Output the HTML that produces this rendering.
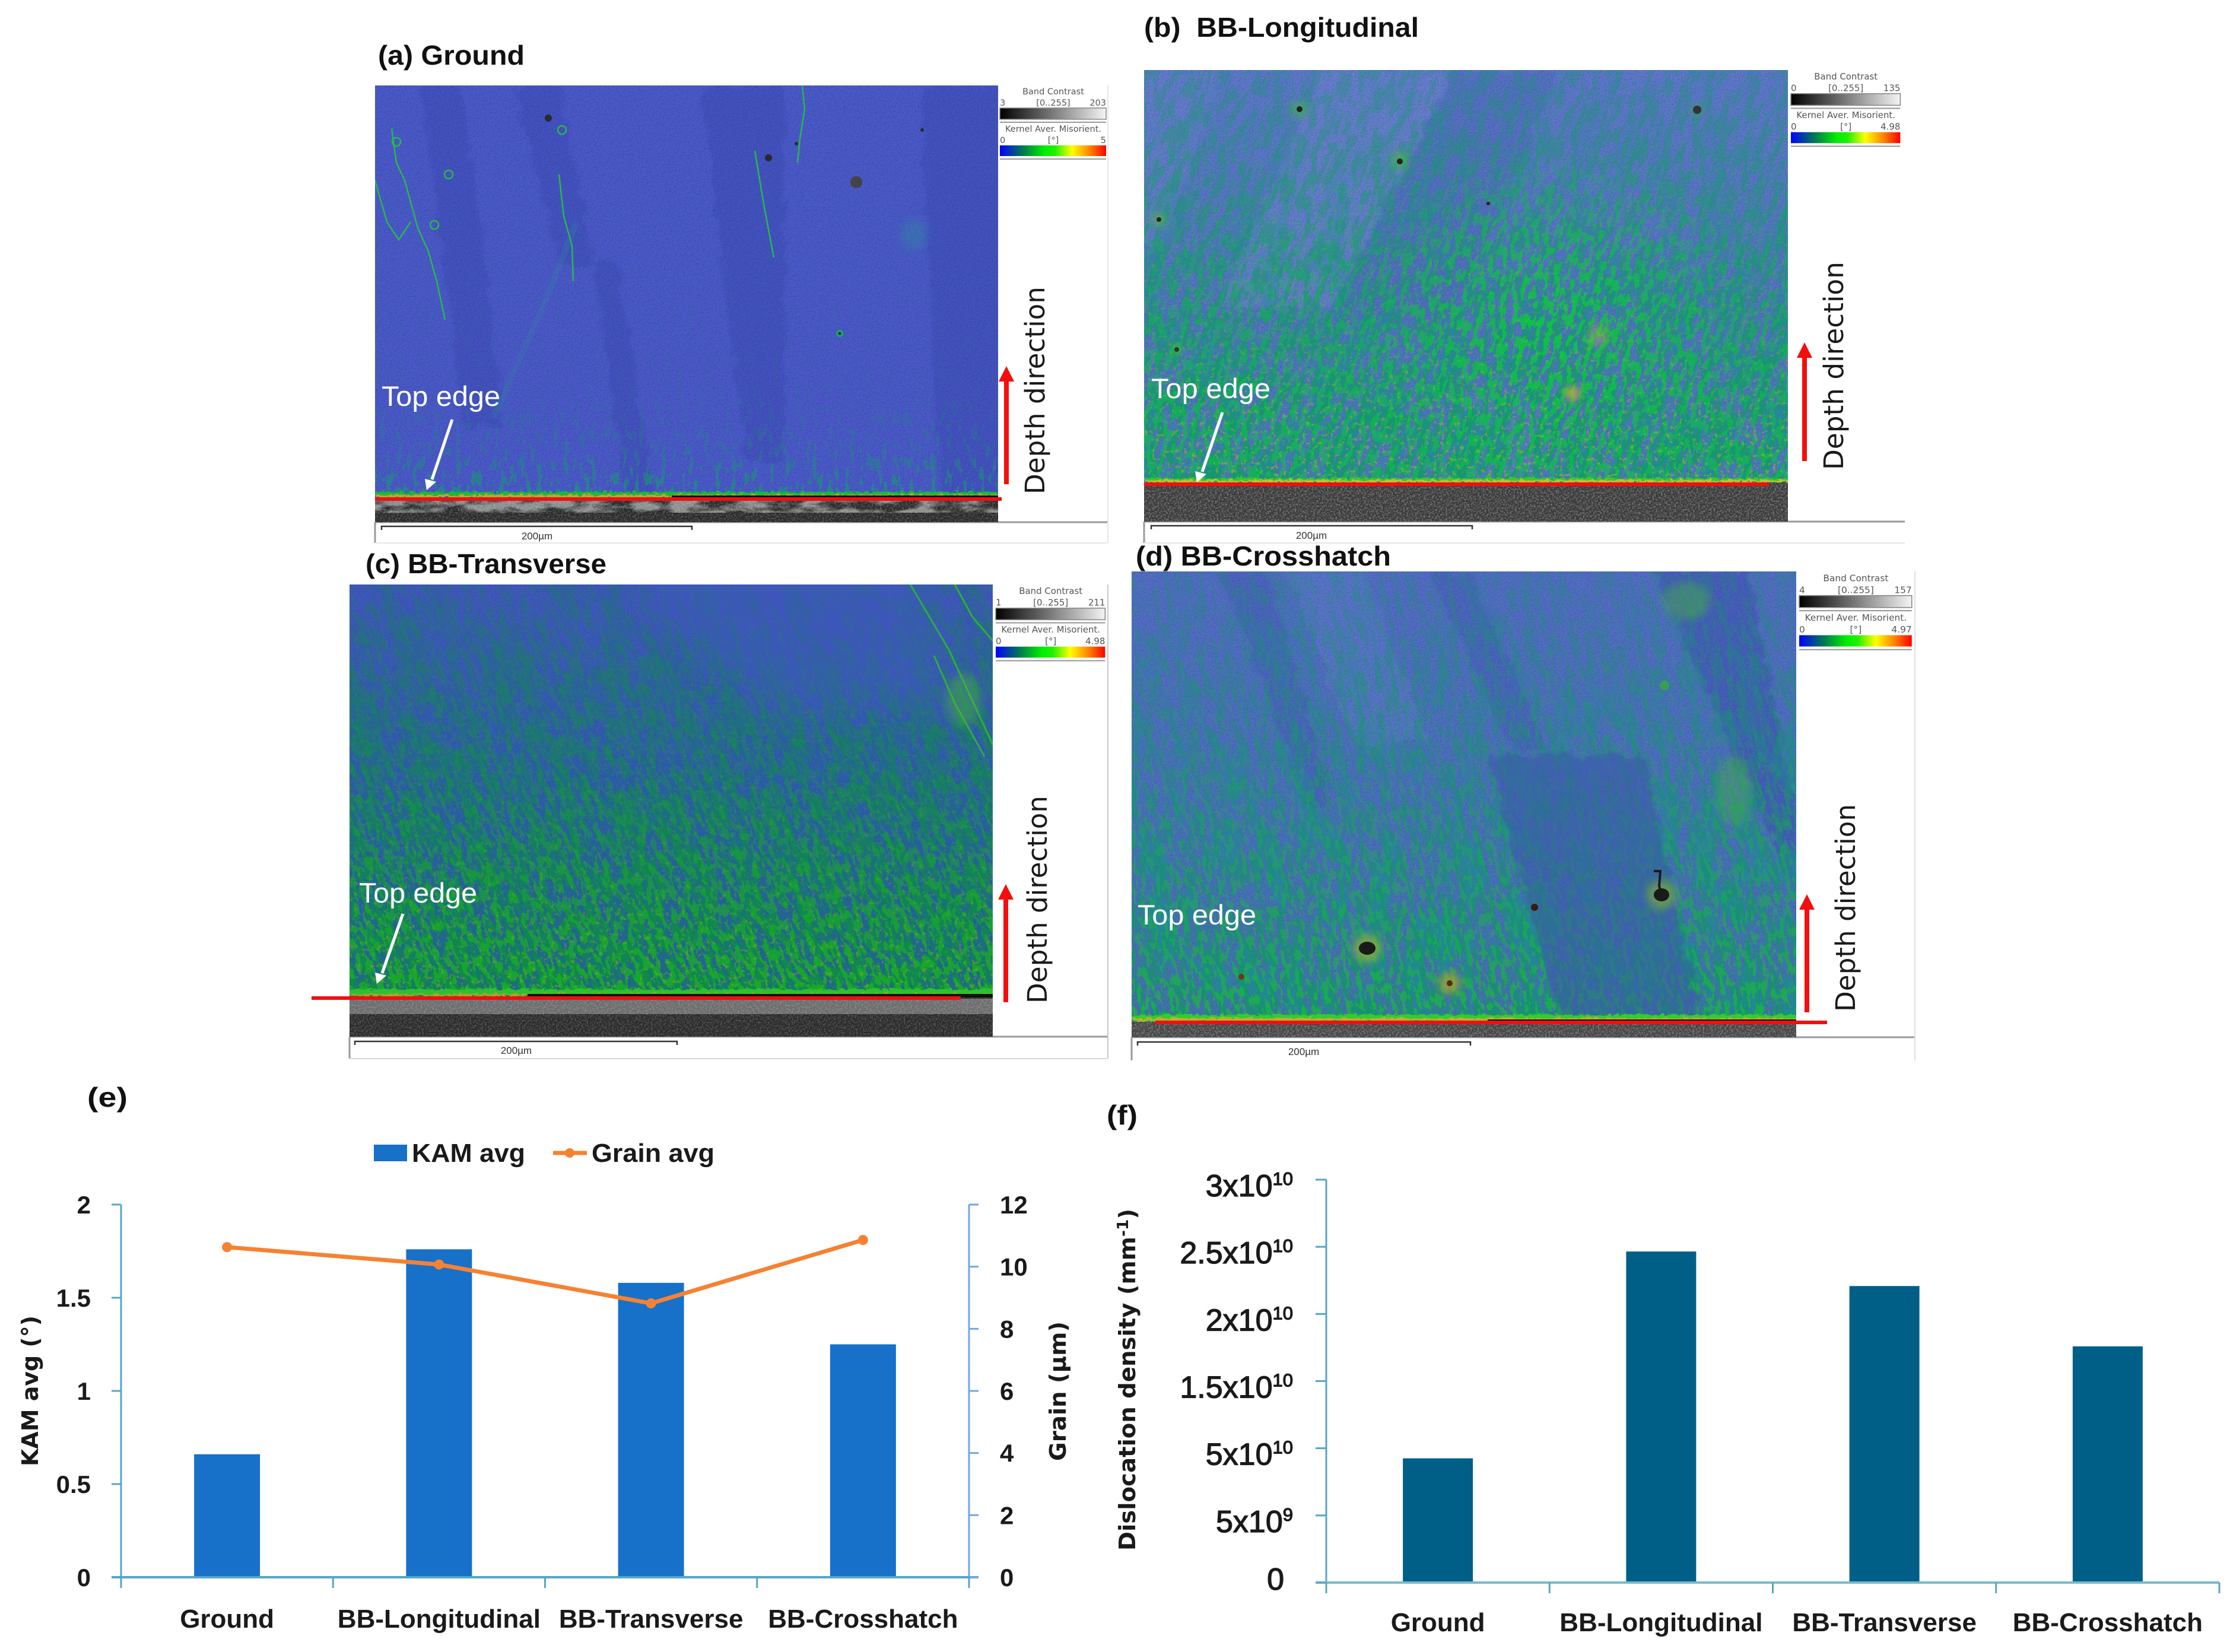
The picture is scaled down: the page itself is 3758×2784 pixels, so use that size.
<!DOCTYPE html>
<html lang="en">
<head>
<meta charset="utf-8">
<title>KAM maps and dislocation density charts</title>
<style>
html,body{margin:0;padding:0;background:#fff;}
svg{display:block;}
text{font-family:"Liberation Sans",sans-serif;}
.ttl{font-weight:bold;font-size:46px;fill:#111;}
.edge{font-size:47px;fill:#fff;}
.depth{font-family:"DejaVu Sans",sans-serif;font-size:45px;fill:#1a1a1a;}
.leg{font-family:"DejaVu Sans",sans-serif;font-size:14.5px;fill:#555;}
.axt{font-family:"DejaVu Sans",sans-serif;font-weight:bold;font-size:38px;fill:#1a1a1a;}
.tick{font-weight:bold;font-size:42px;fill:#1a1a1a;}
.tickf{font-size:52px;fill:#1a1a1a;stroke:#1a1a1a;stroke-width:1.3px;}
.cat{font-weight:bold;font-size:44px;fill:#1a1a1a;}
.scale{font-size:17px;fill:#333;}
</style>
</head>
<body>
<svg id="figure" xmlns="http://www.w3.org/2000/svg" width="3758" height="2784" viewBox="0 0 3758 2784">
<defs>
  <linearGradient id="lg-gray"><stop offset="0" stop-color="#000"/><stop offset="1" stop-color="#f4f4f4"/></linearGradient>
  <linearGradient id="lg-kam"><stop offset="0" stop-color="#0000ff"/><stop offset=".22" stop-color="#007a50"/><stop offset=".42" stop-color="#00ee00"/><stop offset=".52" stop-color="#20f000"/><stop offset=".68" stop-color="#ffff00"/><stop offset=".85" stop-color="#ff8000"/><stop offset="1" stop-color="#ff0000"/></linearGradient>

  <filter id="rough" x="-5%" y="-5%" width="110%" height="110%" color-interpolation-filters="sRGB">
    <feGaussianBlur stdDeviation="3" result="b"/>
    <feTurbulence type="fractalNoise" baseFrequency="0.035" numOctaves="3" seed="5" result="n"/>
    <feDisplacementMap in="b" in2="n" scale="26" xChannelSelector="R" yChannelSelector="G"/>
  </filter>
  <filter id="grain" x="0" y="0" width="100%" height="100%" color-interpolation-filters="sRGB">
    <feTurbulence type="fractalNoise" baseFrequency="0.35" numOctaves="2" seed="9"/>
    <feColorMatrix values="0 0 0 0 1  0 0 0 0 1  0 0 0 0 1  3 0 0 0 -1.25"/>
  </filter>
  <filter id="blotch" x="0" y="0" width="100%" height="100%" color-interpolation-filters="sRGB">
    <feTurbulence type="fractalNoise" baseFrequency="0.018 0.06" numOctaves="4" seed="14"/>
    <feColorMatrix values="0 0 0 0 .55  0 0 0 0 .55  0 0 0 0 .55  4 0 0 0 -1.5"/>
  </filter>
  <filter id="fine-blue" x="0" y="0" width="100%" height="100%" color-interpolation-filters="sRGB">
    <feTurbulence type="fractalNoise" baseFrequency="0.4" numOctaves="2" seed="2"/>
    <feColorMatrix values="0 0 0 0 .15  0 0 0 0 .2  0 0 0 0 .55  2.2 0 0 0 -1"/>
  </filter>
  <filter id="m-vert" x="0" y="0" width="100%" height="100%" color-interpolation-filters="sRGB">
    <feTurbulence type="fractalNoise" baseFrequency="0.11 0.04" numOctaves="3" seed="4"/>
    <feColorMatrix values="0 0 0 0 .08  0 0 0 0 .62  0 0 0 0 .42  10 0 0 0 -5.4"/>
  </filter>
  <filter id="teal-b" x="0" y="0" width="100%" height="100%" color-interpolation-filters="sRGB">
    <feTurbulence type="fractalNoise" baseFrequency="0.025 0.009" numOctaves="3" seed="7"/>
    <feColorMatrix values="0 0 0 0 .1  0 0 0 0 .56  0 0 0 0 .55  8 0 0 0 -4"/>
  </filter>
  <filter id="teal-c" x="0" y="0" width="100%" height="100%" color-interpolation-filters="sRGB">
    <feTurbulence type="fractalNoise" baseFrequency="0.025 0.009" numOctaves="3" seed="17"/>
    <feColorMatrix values="0 0 0 0 .08  0 0 0 0 .48  0 0 0 0 .42  8 0 0 0 -3.8"/>
  </filter>
  <filter id="m-b1" x="0" y="0" width="100%" height="100%" color-interpolation-filters="sRGB">
    <feTurbulence type="fractalNoise" baseFrequency="0.08 0.025" numOctaves="4" seed="11"/>
    <feColorMatrix values="0 0 0 0 .08  0 0 0 0 .6  0 0 0 0 .42  11 0 0 0 -5.2"/>
  </filter>
  <filter id="m-b2" x="0" y="0" width="100%" height="100%" color-interpolation-filters="sRGB">
    <feTurbulence type="fractalNoise" baseFrequency="0.11 0.05" numOctaves="4" seed="23"/>
    <feColorMatrix values="0 0 0 0 .05  0 0 0 0 .78  0 0 0 0 .25  13 0 0 0 -6.4"/>
  </filter>
  <filter id="m-c1" x="0" y="0" width="100%" height="100%" color-interpolation-filters="sRGB">
    <feTurbulence type="fractalNoise" baseFrequency="0.08 0.025" numOctaves="4" seed="31"/>
    <feColorMatrix values="0 0 0 0 .06  0 0 0 0 .55  0 0 0 0 .28  11 0 0 0 -5.3"/>
  </filter>
  <filter id="m-c2" x="0" y="0" width="100%" height="100%" color-interpolation-filters="sRGB">
    <feTurbulence type="fractalNoise" baseFrequency="0.11 0.05" numOctaves="4" seed="37"/>
    <feColorMatrix values="0 0 0 0 .1  0 0 0 0 .7  0 0 0 0 .12  13 0 0 0 -6.4"/>
  </filter>
  <filter id="m-d1" x="0" y="0" width="100%" height="100%" color-interpolation-filters="sRGB">
    <feTurbulence type="fractalNoise" baseFrequency="0.09 0.022" numOctaves="4" seed="41"/>
    <feColorMatrix values="0 0 0 0 .08  0 0 0 0 .58  0 0 0 0 .42  11 0 0 0 -5.3"/>
  </filter>
  <filter id="m-d2" x="0" y="0" width="100%" height="100%" color-interpolation-filters="sRGB">
    <feTurbulence type="fractalNoise" baseFrequency="0.12 0.05" numOctaves="4" seed="47"/>
    <feColorMatrix values="0 0 0 0 .1  0 0 0 0 .74  0 0 0 0 .22  13 0 0 0 -6.6"/>
  </filter>
  <filter id="orange" x="0" y="0" width="100%" height="100%" color-interpolation-filters="sRGB">
    <feTurbulence type="fractalNoise" baseFrequency="0.15" numOctaves="2" seed="53"/>
    <feColorMatrix values="0 0 0 0 .85  0 0 0 0 .66  0 0 0 0 .12  24 0 0 0 -15.6"/>
  </filter>
  <filter id="strip" x="0" y="-30%" width="100%" height="160%" color-interpolation-filters="sRGB">
    <feTurbulence type="fractalNoise" baseFrequency="0.12 0.2" numOctaves="3" seed="8" result="n"/>
    <feDisplacementMap in="SourceGraphic" in2="n" scale="10" xChannelSelector="G" yChannelSelector="R"/>
  </filter>
  <filter id="soft" x="-30%" y="-30%" width="160%" height="160%"><feGaussianBlur stdDeviation="7"/></filter>
  <filter id="softer" x="-30%" y="-30%" width="160%" height="160%"><feGaussianBlur stdDeviation="30"/></filter>

  <clipPath id="clip-a"><rect width="1050" height="736"/></clipPath>
  <clipPath id="clip-b"><rect width="1085" height="761"/></clipPath>
  <clipPath id="clip-c"><rect width="1084" height="762"/></clipPath>
  <clipPath id="clip-d"><rect width="1120" height="785"/></clipPath>

  <linearGradient id="ga" x1="0" y1="0" x2="0" y2="1"><stop offset="0" stop-color="#000"/><stop offset=".7" stop-color="#0e0e0e"/><stop offset=".84" stop-color="#444"/><stop offset=".92" stop-color="#999"/><stop offset="1" stop-color="#eee"/></linearGradient>
  <mask id="mask-a" maskUnits="userSpaceOnUse" x="0" y="0" width="1050" height="736"><rect width="1050" height="736" fill="url(#ga)"/></mask>

  <linearGradient id="gb" x1="0" y1="0" x2="0" y2="1"><stop offset="0" stop-color="#4a4a4a"/><stop offset=".35" stop-color="#7a7a7a"/><stop offset=".7" stop-color="#ccc"/><stop offset="1" stop-color="#eee"/></linearGradient>
  <linearGradient id="gt" x1="0" y1="0" x2="0" y2="1"><stop offset="0" stop-color="#111"/><stop offset=".35" stop-color="#4a4a4a"/><stop offset=".7" stop-color="#aaa"/><stop offset="1" stop-color="#ccc"/></linearGradient>
  <radialGradient id="rb"><stop offset="0" stop-color="#fff" stop-opacity=".85"/><stop offset="1" stop-color="#fff" stop-opacity="0"/></radialGradient>
  <linearGradient id="gb2" x1="0" y1="0" x2="0" y2="1"><stop offset="0" stop-color="#000"/><stop offset=".3" stop-color="#222"/><stop offset=".7" stop-color="#777"/><stop offset="1" stop-color="#999"/></linearGradient>
  <mask id="mask-b" maskUnits="userSpaceOnUse" x="0" y="0" width="1085" height="761"><rect width="1085" height="761" fill="url(#gb)"/></mask>
  <mask id="mask-bt" maskUnits="userSpaceOnUse" x="0" y="0" width="1085" height="761"><rect width="1085" height="761" fill="url(#gt)"/></mask>
  <mask id="mask-b2" maskUnits="userSpaceOnUse" x="0" y="0" width="1085" height="761"><rect width="1085" height="761" fill="url(#gb2)"/><ellipse cx="690" cy="430" rx="340" ry="300" fill="url(#rb)"/></mask>

  <linearGradient id="gc" x1="0" y1="0" x2="0" y2="1"><stop offset="0" stop-color="#333"/><stop offset=".4" stop-color="#777"/><stop offset=".75" stop-color="#ccc"/><stop offset="1" stop-color="#fff"/></linearGradient>
  <linearGradient id="gc2" x1="0" y1="0" x2="0" y2="1"><stop offset="0" stop-color="#0a0a0a"/><stop offset=".4" stop-color="#2a2a2a"/><stop offset=".75" stop-color="#999"/><stop offset="1" stop-color="#f0f0f0"/></linearGradient>
  <mask id="mask-c" maskUnits="userSpaceOnUse" x="0" y="0" width="1084" height="762"><rect width="1084" height="762" fill="url(#gc)"/></mask>
  <mask id="mask-c2" maskUnits="userSpaceOnUse" x="0" y="0" width="1084" height="762"><rect width="1084" height="762" fill="url(#gc2)"/></mask>

  <linearGradient id="gd" x1="0" y1="0" x2="0" y2="1"><stop offset="0" stop-color="#3a3a3a"/><stop offset=".4" stop-color="#666"/><stop offset=".8" stop-color="#aaa"/><stop offset="1" stop-color="#ddd"/></linearGradient>
  <linearGradient id="gd2" x1="0" y1="0" x2="0" y2="1"><stop offset="0" stop-color="#0a0a0a"/><stop offset=".4" stop-color="#2a2a2a"/><stop offset=".8" stop-color="#777"/><stop offset="1" stop-color="#bbb"/></linearGradient>
  <mask id="mask-d" maskUnits="userSpaceOnUse" x="0" y="0" width="1120" height="785"><rect width="1120" height="785" fill="url(#gd)"/></mask>
  <mask id="mask-dt" maskUnits="userSpaceOnUse" x="0" y="0" width="1120" height="785"><rect width="1120" height="785" fill="url(#gt)"/></mask>
  <mask id="mask-d2" maskUnits="userSpaceOnUse" x="0" y="0" width="1120" height="785"><rect width="1120" height="785" fill="url(#gd2)"/></mask>

  <linearGradient id="g-or" x1="0" y1="0" x2="0" y2="1"><stop offset="0" stop-color="#000"/><stop offset=".55" stop-color="#2a2a2a"/><stop offset="1" stop-color="#999"/></linearGradient>
  <mask id="mask-or" maskUnits="userSpaceOnUse" x="0" y="0" width="1120" height="785"><rect width="1120" height="785" fill="url(#g-or)"/></mask>

  <linearGradient id="bg-b" x1="0" y1="0" x2="0" y2="1"><stop offset="0" stop-color="#5f78c8"/><stop offset=".55" stop-color="#4f74bc"/><stop offset="1" stop-color="#4a7cb4"/></linearGradient>
  <linearGradient id="bg-c" x1="0" y1="0" x2="0" y2="1"><stop offset="0" stop-color="#4057bc"/><stop offset=".45" stop-color="#2b5ea8"/><stop offset=".85" stop-color="#1f6b8a"/><stop offset="1" stop-color="#1d7a6a"/></linearGradient>
  <linearGradient id="bg-d" x1="0" y1="0" x2="0" y2="1"><stop offset="0" stop-color="#556cc4"/><stop offset=".55" stop-color="#4a6fba"/><stop offset="1" stop-color="#3f76a6"/></linearGradient>
</defs>

<rect width="3758" height="2784" fill="#fff"/>

<!-- PANEL A -->
<text class="ttl" x="637" y="109" textLength="247" lengthAdjust="spacingAndGlyphs">(a) Ground</text>
<g fill="none">
  <path d="M632 880H1867M632 880V915" stroke="#9a9a9a" stroke-width="3"/>
  <path d="M1867 144V915M632 915H1867" stroke="#e6e6e6" stroke-width="2"/>
</g>
<g transform="translate(632,144)" clip-path="url(#clip-a)">
  <rect width="1050" height="736" fill="#4a59c6"/>
  <g fill="#3948b0" filter="url(#rough)" opacity=".38">
    <polygon points="76,0 150,0 216,576 150,576"/>
    <polygon points="549,0 690,0 690,636 625,636"/>
    <polygon points="920,0 1060,0 1060,698 950,698"/>
    <polygon points="234,0 310,0 370,300 310,300"/>
    <polygon points="370,300 410,300 470,690 420,690"/>
  </g>
  <rect width="1050" height="736" filter="url(#fine-blue)" opacity=".45"/>
  <g mask="url(#mask-a)"><rect width="1050" height="736" filter="url(#m-vert)"/></g>
  <g fill="none" stroke="#28b84a" stroke-width="2.5">
    <path d="M28,72 L36,130 L50,160 L72,240 L90,280 L104,330 L118,395"/>
    <path d="M310,150 L318,220 L332,270 L334,330"/>
    <path d="M720,0 L724,40 L716,90 L712,130"/>
    <path d="M640,110 L655,200 L672,290"/>
    <path d="M0,160 L20,230 L40,260 L60,230"/>
    <circle cx="36" cy="95" r="7"/><circle cx="124" cy="150" r="7"/><circle cx="315" cy="75" r="7"/><circle cx="100" cy="235" r="7"/>
  </g>
  <path d="M340,230 L280,380 L200,560" stroke="#2a8a9a" stroke-width="10" fill="none" opacity=".25"/>
  <g filter="url(#strip)">
    <rect y="685" width="1050" height="10" fill="#1cb83a"/>
    <rect y="690" width="1050" height="5" fill="#b8a838"/>
  </g>
  <rect x="500" y="691" width="550" height="4" fill="#111"/>
  <rect y="698" width="1050" height="38" fill="#2a2a2a"/>
  <rect y="698" width="1050" height="22" filter="url(#blotch)"/>
  <rect y="698" width="1050" height="38" filter="url(#grain)" opacity=".22"/>
  <g fill="#2a2a2a">
    <circle cx="292" cy="55" r="6"/><circle cx="663" cy="122" r="6"/><circle cx="811" cy="163" r="10" fill="#444"/>
    <circle cx="922" cy="75" r="3"/><circle cx="710" cy="98" r="3"/>
  </g>
  <circle cx="783" cy="418" r="6" fill="#1aa85a"/><circle cx="783" cy="418" r="2.5" fill="#123"/>
  <ellipse cx="908" cy="252" rx="24" ry="26" fill="#2d8aa0" opacity=".4" filter="url(#soft)"/>
</g>
<rect x="632" y="838" width="1056" height="6" fill="#f01010"/>
<text class="edge" x="643" y="684" textLength="200" lengthAdjust="spacingAndGlyphs">Top edge</text>
<g><path d="M762,707 L728,808" stroke="#fff" stroke-width="5"/><polygon points="719,826 716,807 735,812" fill="#fff"/></g>
<g><rect x="1692" y="640" width="8" height="176" fill="#f40f0f"/><polygon points="1696,617 1683,643 1709,643" fill="#f40f0f"/></g>
<text class="depth" transform="translate(1760,833) rotate(-90)" textLength="350" lengthAdjust="spacingAndGlyphs">Depth direction</text>
<g>
  <path d="M643,893 V887 H1166 V893" fill="none" stroke="#333" stroke-width="2.5"/>
  <text class="scale" x="905" y="909" text-anchor="middle">200µm</text>
</g>
<g transform="translate(1685,154)">
  <text class="leg" x="90" y="5" text-anchor="middle">Band Contrast</text>
  <text class="leg" x="0" y="24">3</text><text class="leg" x="90" y="24" text-anchor="middle">[0..255]</text><text class="leg" x="179" y="24" text-anchor="end">203</text>
  <rect x="0" y="28" width="179" height="19" fill="url(#lg-gray)" stroke="#888" stroke-width="1.5"/>
  <rect x="0" y="51" width="179" height="2" fill="#999"/>
  <text class="leg" x="90" y="68" text-anchor="middle">Kernel Aver. Misorient.</text>
  <text class="leg" x="0" y="87">0</text><text class="leg" x="90" y="87" text-anchor="middle">[°]</text><text class="leg" x="179" y="87" text-anchor="end">5</text>
  <rect x="0" y="91" width="179" height="18" fill="url(#lg-kam)"/>
  <rect x="0" y="113" width="179" height="2" fill="#999"/>
</g>

<!-- PANEL B -->
<text class="ttl" x="1928" y="62" textLength="463" lengthAdjust="spacingAndGlyphs">(b)&#160;&#160;BB-Longitudinal</text>
<g fill="none">
  <path d="M1928 879H3210M1928 879V915" stroke="#9a9a9a" stroke-width="3"/>
  <path d="M1928 915H3210" stroke="#e6e6e6" stroke-width="2"/>
</g>
<g transform="translate(1928,118)" clip-path="url(#clip-b)">
  <rect width="1085" height="761" fill="url(#bg-b)"/>
  <g filter="url(#rough)">
    <polygon points="300,0 523,0 317,400 128,400" fill="#6a80cc" opacity=".7"/>
    <polygon points="0,0 130,0 30,300 0,300" fill="#6a80cc" opacity=".5"/>
    <polygon points="523,0 700,0 520,420 317,420" fill="#4f66bc" opacity=".45"/>
    <polygon points="520,560 720,520 660,690 500,690" fill="#5a80c0" opacity=".5"/>
  </g>
  <rect width="1085" height="761" filter="url(#fine-blue)" opacity=".35"/>
  <g mask="url(#mask-bt)"><g transform="rotate(17 540 380)"><rect x="-300" y="-300" width="1700" height="1400" filter="url(#teal-b)"/></g></g>
  <g mask="url(#mask-b)"><g transform="rotate(17 540 380)"><rect x="-300" y="-300" width="1700" height="1400" filter="url(#m-b1)"/></g></g>
  <g mask="url(#mask-b2)"><g transform="rotate(17 540 380)"><rect x="-300" y="-300" width="1700" height="1400" filter="url(#m-b2)"/></g></g>
  <g mask="url(#mask-or)"><rect width="1085" height="695" filter="url(#orange)"/></g>
  <g filter="url(#strip)"><rect y="688" width="1085" height="7" fill="#38c830"/><rect y="691" width="1085" height="4" fill="#c0c030"/></g>
  <rect y="695" width="1085" height="66" fill="#3a3a3a"/>
  <rect y="695" width="1085" height="66" filter="url(#grain)" opacity=".3"/>
  <g>
    <circle cx="262" cy="66" r="14" fill="#38c030" opacity=".6" filter="url(#soft)"/><circle cx="262" cy="66" r="5" fill="#222"/>
    <circle cx="431" cy="152" r="14" fill="#38c030" opacity=".7" filter="url(#soft)"/><circle cx="431" cy="154" r="5" fill="#222"/>
    <circle cx="932" cy="67" r="11" fill="#38a050" opacity=".6" filter="url(#soft)"/><circle cx="932" cy="67" r="7" fill="#333"/>
    <circle cx="25" cy="252" r="11" fill="#50c030" opacity=".7" filter="url(#soft)"/><circle cx="25" cy="252" r="4" fill="#222"/>
    <circle cx="55" cy="471" r="9" fill="#50c030" opacity=".7" filter="url(#soft)"/><circle cx="55" cy="471" r="4" fill="#332"/>
    <circle cx="722" cy="545" r="12" fill="#c8b030" opacity=".85" filter="url(#soft)"/>
    <circle cx="765" cy="447" r="18" fill="#a8c030" opacity=".4" filter="url(#soft)"/>
    <circle cx="580" cy="225" r="3" fill="#222"/>
  </g>
</g>
<rect x="1928" y="813" width="1053" height="6" fill="#f01010"/>
<text class="edge" x="1940" y="671" textLength="201" lengthAdjust="spacingAndGlyphs">Top edge</text>
<g><path d="M2060,695 L2026,795" stroke="#fff" stroke-width="5"/><polygon points="2017,813 2014,794 2033,799" fill="#fff"/></g>
<g><rect x="3037" y="600" width="8" height="177" fill="#f40f0f"/><polygon points="3041,577 3028,603 3054,603" fill="#f40f0f"/></g>
<text class="depth" transform="translate(3106,792) rotate(-90)" textLength="351" lengthAdjust="spacingAndGlyphs">Depth direction</text>
<g>
  <path d="M1940,892 V886 H2481 V892" fill="none" stroke="#333" stroke-width="2.5"/>
  <text class="scale" x="2210" y="908" text-anchor="middle">200µm</text>
</g>
<g transform="translate(3018,129) scale(1.03)">
  <text class="leg" x="90" y="5" text-anchor="middle">Band Contrast</text>
  <text class="leg" x="0" y="24">0</text><text class="leg" x="90" y="24" text-anchor="middle">[0..255]</text><text class="leg" x="179" y="24" text-anchor="end">135</text>
  <rect x="0" y="28" width="179" height="19" fill="url(#lg-gray)" stroke="#888" stroke-width="1.5"/>
  <rect x="0" y="51" width="179" height="2" fill="#999"/>
  <text class="leg" x="90" y="68" text-anchor="middle">Kernel Aver. Misorient.</text>
  <text class="leg" x="0" y="87">0</text><text class="leg" x="90" y="87" text-anchor="middle">[°]</text><text class="leg" x="179" y="87" text-anchor="end">4.98</text>
  <rect x="0" y="91" width="179" height="18" fill="url(#lg-kam)"/>
  <rect x="0" y="113" width="179" height="2" fill="#999"/>
</g>

<!-- PANEL C -->
<text class="ttl" x="616" y="966" textLength="406" lengthAdjust="spacingAndGlyphs">(c) BB-Transverse</text>
<g fill="none">
  <path d="M589 1747H1867M589 1747V1784" stroke="#9a9a9a" stroke-width="3"/>
  <path d="M1867 985V1784" stroke="#c8c8c8" stroke-width="2"/>
  <path d="M589 1784H1867" stroke="#d8d8d8" stroke-width="2"/>
</g>
<g transform="translate(589,985)" clip-path="url(#clip-c)">
  <rect width="1084" height="762" fill="url(#bg-c)"/>
  <rect width="1084" height="762" filter="url(#fine-blue)" opacity=".35"/>
  <g mask="url(#mask-c)"><g transform="rotate(-20 540 380)"><rect x="-300" y="-300" width="1700" height="1400" filter="url(#teal-c)"/></g></g>
  <g mask="url(#mask-c)"><g transform="rotate(-20 540 380)"><rect x="-300" y="-300" width="1700" height="1400" filter="url(#m-c1)"/></g></g>
  <g mask="url(#mask-c2)"><g transform="rotate(-20 540 380)"><rect x="-300" y="-300" width="1700" height="1400" filter="url(#m-c2)"/></g></g>
  <g mask="url(#mask-or)"><rect y="60" width="1084" height="635" filter="url(#orange)" opacity=".7"/></g>
  <polygon points="420,-60 960,-60 1010,200 720,210" fill="#4158c0" opacity=".5" filter="url(#softer)"/>
  <g fill="none" stroke="#2cae3a" stroke-width="3">
    <path d="M945,0 L1010,110 L1084,270"/>
    <path d="M1020,0 L1050,55 L1084,95"/>
    <path d="M985,120 L1020,200 L1070,290"/>
  </g>
  <ellipse cx="1035" cy="195" rx="30" ry="45" fill="#48b830" opacity=".4" filter="url(#soft)"/>
  <g filter="url(#strip)"><rect y="682" width="1084" height="12" fill="#2dc030"/><rect y="690" width="1084" height="4" fill="#b0a030"/></g>
  <path d="M300,690 H1084 V697 H300 Z" fill="#111"/>
  <rect y="696" width="1084" height="66" fill="#2b2b2b"/>
  <rect y="698" width="1084" height="26" fill="#6c6c6c"/>
  <rect y="696" width="1084" height="66" filter="url(#grain)" opacity=".2"/>
</g>
<rect x="525" y="1679" width="1094" height="6" fill="#f01010"/>
<text class="edge" x="605" y="1521" textLength="199" lengthAdjust="spacingAndGlyphs">Top edge</text>
<g><path d="M679,1540 L644,1640" stroke="#fff" stroke-width="5"/><polygon points="635,1658 632,1639 651,1644" fill="#fff"/></g>
<g><rect x="1691" y="1515" width="8" height="174" fill="#f40f0f"/><polygon points="1695,1490 1682,1516 1708,1516" fill="#f40f0f"/></g>
<text class="depth" transform="translate(1764,1691) rotate(-90)" textLength="350" lengthAdjust="spacingAndGlyphs">Depth direction</text>
<g>
  <path d="M598,1761 V1755 H1141 V1761" fill="none" stroke="#333" stroke-width="2.5"/>
  <text class="scale" x="870" y="1776" text-anchor="middle">200µm</text>
</g>
<g transform="translate(1678,996) scale(1.03)">
  <text class="leg" x="90" y="5" text-anchor="middle">Band Contrast</text>
  <text class="leg" x="0" y="24">1</text><text class="leg" x="90" y="24" text-anchor="middle">[0..255]</text><text class="leg" x="179" y="24" text-anchor="end">211</text>
  <rect x="0" y="28" width="179" height="19" fill="url(#lg-gray)" stroke="#888" stroke-width="1.5"/>
  <rect x="0" y="51" width="179" height="2" fill="#999"/>
  <text class="leg" x="90" y="68" text-anchor="middle">Kernel Aver. Misorient.</text>
  <text class="leg" x="0" y="87">0</text><text class="leg" x="90" y="87" text-anchor="middle">[°]</text><text class="leg" x="179" y="87" text-anchor="end">4.98</text>
  <rect x="0" y="91" width="179" height="18" fill="url(#lg-kam)"/>
  <rect x="0" y="113" width="179" height="2" fill="#999"/>
</g>

<!-- PANEL D -->
<text class="ttl" x="1914" y="953" textLength="430" lengthAdjust="spacingAndGlyphs">(d) BB-Crosshatch</text>
<g fill="none">
  <path d="M1907 1748H3227M1907 1748V1787" stroke="#9a9a9a" stroke-width="3"/>
  <path d="M3227 963V1787" stroke="#e0e0e0" stroke-width="2"/>
</g>
<g transform="translate(1907,963)" clip-path="url(#clip-d)">
  <rect width="1120" height="785" fill="url(#bg-d)"/>
  <g filter="url(#rough)">
    <polygon points="880,0 1040,0 1120,400 1120,540 1010,300" fill="#3c52b0" opacity=".55"/>
    <polygon points="150,0 230,0 340,400 300,400" fill="#4058b4" opacity=".4"/>
    <polygon points="500,0 570,0 700,300 640,300" fill="#4058b4" opacity=".4"/>
    <polygon points="260,0 390,0 500,280 380,300" fill="#6079cc" opacity=".5"/>
  </g>
  <rect width="1120" height="785" filter="url(#fine-blue)" opacity=".35"/>
  <g mask="url(#mask-dt)"><g transform="rotate(-11 560 390)"><rect x="-300" y="-300" width="1700" height="1400" filter="url(#teal-b)"/></g></g>
  <g mask="url(#mask-d)"><g transform="rotate(-11 560 390)"><rect x="-300" y="-300" width="1700" height="1400" filter="url(#m-d1)"/></g></g>
  <g mask="url(#mask-d2)"><g transform="rotate(-11 560 390)"><rect x="-300" y="-300" width="1700" height="1400" filter="url(#m-d2)"/></g></g>
  <polygon points="600,310 860,310 960,750 720,750" fill="#3a58a8" opacity=".55" filter="url(#rough)"/>
  <ellipse cx="935" cy="50" rx="40" ry="32" fill="#48b838" opacity=".4" filter="url(#soft)"/>
  <ellipse cx="1015" cy="370" rx="30" ry="60" fill="#48b838" opacity=".35" filter="url(#soft)"/>
  <g filter="url(#strip)"><rect y="747" width="1120" height="12" fill="#38c830"/><rect y="753" width="1120" height="5" fill="#b8b030"/></g>
  <path d="M600,755 H1120 V761 H600 Z" fill="#111"/>
  <rect y="759" width="1120" height="26" fill="#444"/>
  <rect y="759" width="1120" height="26" filter="url(#grain)" opacity=".3"/>
  <g>
    <circle cx="397" cy="635" r="24" fill="#a0b030" opacity=".65" filter="url(#soft)"/><ellipse cx="397" cy="635" rx="14" ry="11" fill="#1a1a1a"/>
    <circle cx="536" cy="694" r="18" fill="#b0a030" opacity=".75" filter="url(#soft)"/><circle cx="536" cy="694" r="5" fill="#5a2a10"/>
    <circle cx="893" cy="545" r="24" fill="#80b030" opacity=".65" filter="url(#soft)"/><ellipse cx="893" cy="545" rx="13" ry="11" fill="#1a1a1a"/>
    <path d="M880,505 H891 L889,530 L893,545" stroke="#1a1a1a" stroke-width="4" fill="none"/>
    <circle cx="679" cy="566" r="6" fill="#3a1a10"/>
    <circle cx="185" cy="683" r="5" fill="#6a3a10"/>
    <circle cx="898" cy="192" r="8" fill="#38b030" opacity=".7"/>
  </g>
</g>
<rect x="1947" y="1720" width="1132" height="6" fill="#f01010"/>
<text class="edge" x="1917" y="1558" textLength="200" lengthAdjust="spacingAndGlyphs">Top edge</text>
<g><rect x="3041" y="1532" width="8" height="174" fill="#f40f0f"/><polygon points="3045,1507 3032,1533 3058,1533" fill="#f40f0f"/></g>
<text class="depth" transform="translate(3126,1705) rotate(-90)" textLength="350" lengthAdjust="spacingAndGlyphs">Depth direction</text>
<g>
  <path d="M1917,1762 V1756 H2478 V1762" fill="none" stroke="#333" stroke-width="2.5"/>
  <text class="scale" x="2197" y="1778" text-anchor="middle">200µm</text>
</g>
<g transform="translate(3032,974) scale(1.06)">
  <text class="leg" x="90" y="5" text-anchor="middle">Band Contrast</text>
  <text class="leg" x="0" y="24">4</text><text class="leg" x="90" y="24" text-anchor="middle">[0..255]</text><text class="leg" x="179" y="24" text-anchor="end">157</text>
  <rect x="0" y="28" width="179" height="19" fill="url(#lg-gray)" stroke="#888" stroke-width="1.5"/>
  <rect x="0" y="51" width="179" height="2" fill="#999"/>
  <text class="leg" x="90" y="68" text-anchor="middle">Kernel Aver. Misorient.</text>
  <text class="leg" x="0" y="87">0</text><text class="leg" x="90" y="87" text-anchor="middle">[°]</text><text class="leg" x="179" y="87" text-anchor="end">4.97</text>
  <rect x="0" y="91" width="179" height="18" fill="url(#lg-kam)"/>
  <rect x="0" y="113" width="179" height="2" fill="#999"/>
</g>

<!-- CHART E STATIC -->
<text class="ttl" x="147" y="1865" textLength="68" lengthAdjust="spacingAndGlyphs">(e)</text>
<g>
  <rect x="630" y="1929" width="56" height="28" fill="#1771c9"/>
  <text class="cat" x="694" y="1958" textLength="191" lengthAdjust="spacingAndGlyphs">KAM avg</text>
</g>
<g>
  <path d="M932,1943 H989" stroke="#f58233" stroke-width="7"/>
  <circle cx="960" cy="1943" r="8" fill="#f58233"/>
  <text class="cat" x="997" y="1958" textLength="207" lengthAdjust="spacingAndGlyphs">Grain avg</text>
</g>
<text class="axt" transform="translate(64,2471) rotate(-90)" textLength="254" lengthAdjust="spacingAndGlyphs">KAM avg (°)</text>
<text class="axt" transform="translate(1796,2462) rotate(-90)" textLength="235" lengthAdjust="spacingAndGlyphs">Grain (µm)</text>
<g id="chart-e"></g>

<!-- CHART F STATIC -->
<text class="ttl" x="1865" y="1895" textLength="52" lengthAdjust="spacingAndGlyphs">(f)</text>
<text class="axt" transform="translate(1913,2613) rotate(-90)" textLength="576" lengthAdjust="spacingAndGlyphs">Dislocation density (mm<tspan dy="-12" font-size="26">-1</tspan><tspan dy="12">)</tspan></text>
<g id="chart-f"></g>

<script>
var categories = ["Ground", "BB-Longitudinal", "BB-Transverse", "BB-Crosshatch"];
var kamValues = [0.66, 1.76, 1.58, 1.25];
var grainValues = [10.63, 10.07, 8.82, 10.86];
var kamTicks = [0, 0.5, 1, 1.5, 2];
var grainTicks = [0, 2, 4, 6, 8, 10, 12];
var dislocationValues = [0.925e10, 2.465e10, 2.208e10, 1.759e10];
var dislocationTicks = [0, 5e9, 1e10, 1.5e10, 2e10, 2.5e10, 3e10];
var dislocationTickBase = ["0", "5x10", "5x10", "1.5x10", "2x10", "2.5x10", "3x10"];
var dislocationTickExp = ["", "9", "10", "10", "10", "10", "10"];

var NS = "http://www.w3.org/2000/svg";
function mk(tag, parent, attrs) {
  var n = document.createElementNS(NS, tag);
  for (var k in attrs) n.setAttribute(k, attrs[k]);
  parent.appendChild(n);
  return n;
}

/* ---------- chart e ---------- */
var E = { left: 204, right: 1633, top: 2030, bottom: 2658, kamMax: 2, grainMax: 12 };
function xE(i) { return E.left + (E.right - E.left) * (i + 0.5) / categories.length; }
function edgeE(i) { return E.left + (E.right - E.left) * i / categories.length; }
function yKam(v) { return E.bottom - (E.bottom - E.top) * v / E.kamMax; }
function yGrain(v) { return E.bottom - (E.bottom - E.top) * v / E.grainMax; }

var ge = document.getElementById("chart-e");
var ln;
var barW = 111;
kamValues.forEach(function (v, i) {
  var r = mk("rect", ge, { x: xE(i) - barW / 2, y: yKam(v), width: barW, height: E.bottom - yKam(v), fill: "#1771c9" });
  
  
});
ln = mk("line", ge, { x1: E.left, x2: E.left, y1: E.top, y2: E.bottom, stroke: "#55a5c4", "stroke-width": 3 });


ln = mk("line", ge, { x1: E.right, x2: E.right, y1: E.top, y2: E.bottom, stroke: "#72a6dc", "stroke-width": 3 });


ln = mk("line", ge, { x1: E.left - 16, x2: E.right + 16, y1: E.bottom, y2: E.bottom, stroke: "#55a5c4", "stroke-width": 4 });


kamTicks.forEach(function (t) {
  var tickMark = mk("line", ge, { x1: E.left - 16, x2: E.left, y1: yKam(t), y2: yKam(t), stroke: "#55a5c4", "stroke-width": 3 });
  
  
  var tx = mk("text", ge, { x: 153, y: yKam(t) + 15, "text-anchor": "end", "class": "tick" });
  
  
  tx.textContent = String(t);
});
grainTicks.forEach(function (t) {
  var tickMark = mk("line", ge, { x1: E.right, x2: E.right + 16, y1: yGrain(t), y2: yGrain(t), stroke: "#72a6dc", "stroke-width": 3 });
  
  
  var tx = mk("text", ge, { x: 1685, y: yGrain(t) + 15, "class": "tick" });
  
  
  tx.textContent = String(t);
});
categories.forEach(function (c, i) {
  var tx = mk("text", ge, { x: xE(i), y: 2743, "text-anchor": "middle", "class": "cat" });
  
  
  tx.textContent = c;
});
for (var ei = 0; ei <= categories.length; ei++) {
  var ct = mk("line", ge, { x1: edgeE(ei), x2: edgeE(ei), y1: E.bottom, y2: E.bottom + 18, stroke: "#55a5c4", "stroke-width": 3 });
  
  
}
var grainPath = grainValues.map(function (v, i) { return xE(i) + "," + yGrain(v); }).join(" ");
var gl = mk("polyline", ge, { points: grainPath, fill: "none", stroke: "#f58233", "stroke-width": 7, "stroke-linejoin": "round" });


grainValues.forEach(function (v, i) {
  var p = mk("circle", ge, { cx: xE(i), cy: yGrain(v), r: 8.5, fill: "#f58233" });
  
  
});

/* ---------- chart f ---------- */
var F = { left: 2235, right: 3740, top: 1988, bottom: 2667, max: 3e10 };
function xF(i) { return F.left + (F.right - F.left) * (i + 0.5) / categories.length; }
function edgeF(i) { return F.left + (F.right - F.left) * i / categories.length; }
function yD(v) { return F.bottom - (F.bottom - F.top) * v / F.max; }

var gf = document.getElementById("chart-f");
var barWF = 118;
dislocationValues.forEach(function (v, i) {
  var r = mk("rect", gf, { x: xF(i) - barWF / 2, y: yD(v), width: barWF, height: F.bottom - yD(v), fill: "#005f86" });
  
  
});
ln = mk("line", gf, { x1: F.left, x2: F.left, y1: F.top, y2: F.bottom, stroke: "#55a5c4", "stroke-width": 3 });


ln = mk("line", gf, { x1: F.left - 18, x2: F.right, y1: F.bottom, y2: F.bottom, stroke: "#7ab8cc", "stroke-width": 4 });


dislocationTicks.forEach(function (t, i) {
  var tickMark = mk("line", gf, { x1: F.left - 18, x2: F.left, y1: yD(t), y2: yD(t), stroke: "#55a5c4", "stroke-width": 3 });
  
  
  var tx = mk("text", gf, { x: i === 0 ? F.left - 71 : F.left - 56, y: yD(t) + (i === 0 ? 12 : 28), "text-anchor": "end", "class": "tickf" });
  
  
  tx.textContent = dislocationTickBase[i];
  if (dislocationTickExp[i]) {
    var sup = mk("tspan", tx, { dy: -19, "font-size": 31 });
    sup.textContent = dislocationTickExp[i];
  }
});
categories.forEach(function (c, i) {
  var tx = mk("text", gf, { x: xF(i), y: 2749, "text-anchor": "middle", "class": "cat" });
  
  
  tx.textContent = c;
});
for (var fi = 0; fi <= categories.length; fi++) {
  var cf = mk("line", gf, { x1: edgeF(fi), x2: edgeF(fi), y1: F.bottom, y2: F.bottom + 18, stroke: "#55a5c4", "stroke-width": 3 });
  
  
}
</script>
</svg>
</body>
</html>
